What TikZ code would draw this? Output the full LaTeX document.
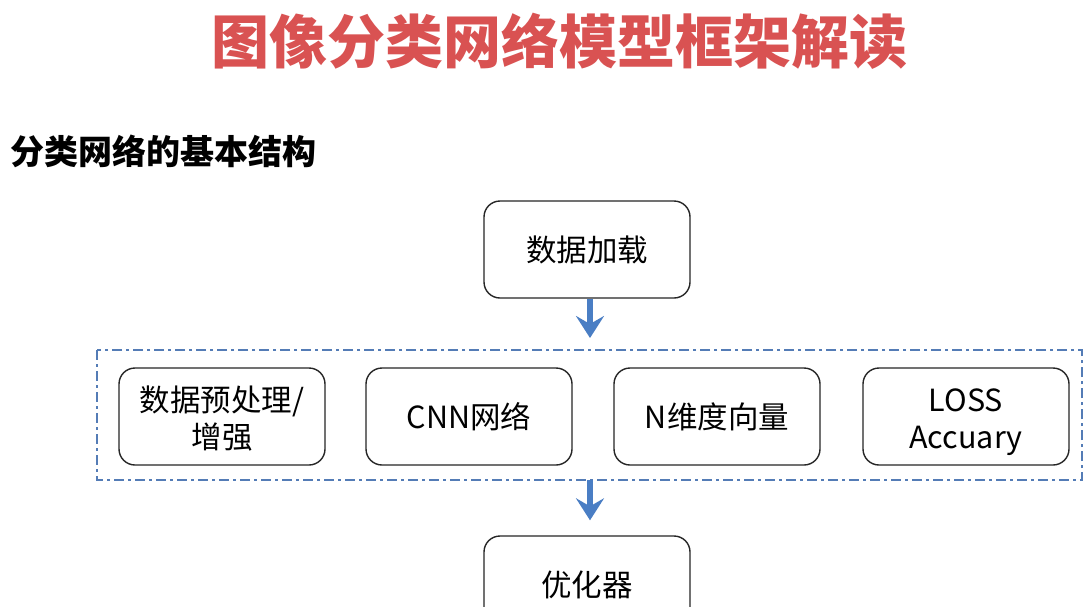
\documentclass[tikz,border=0pt]{standalone}
\usepackage{fontspec}
\newfontfamily\cjk{Noto Sans CJK SC}
\usetikzlibrary{arrows.meta}
\definecolor{titlered}{RGB}{217,82,82}
\definecolor{arrowblue}{RGB}{74,126,196}
\definecolor{dashblue}{RGB}{84,124,182}
\newcommand{\twolines}[2]{\raisebox{-12.5pt}[0pt][0pt]{\begin{tabular}{@{}c@{}}#1\\#2\end{tabular}}}
\tikzset{
  box/.style={draw=black!85, line width=1.4pt, rounded corners=16pt, minimum width=206pt, minimum height=97pt, align=center, inner sep=2pt, font=\cjk\fontsize{30.5}{37}\selectfont},
  flow/.style={draw=arrowblue, line width=6pt, -{Stealth[length=22pt,width=28pt,inset=8pt]}},
}
\begin{document}
\begin{tikzpicture}[x=1pt,y=-1pt]
\useasboundingbox[fill=white] (0,0) rectangle (1092,606);
\node[font=\cjk\bfseries\fontsize{58}{62}\selectfont, text=titlered] (title) at (559,41) {图像分类网络模型框架解读};
\node[font=\cjk\bfseries\fontsize{34}{38}\selectfont, anchor=west, inner sep=0pt] (sub) at (10,151) {分类网络的基本结构};
\node[box] (load) at (587,249.5) {数据加载};
\draw[dashblue, line width=2.5pt, dash pattern=on 10pt off 4pt on 3pt off 4pt] (97,350) rectangle (1082,480);
\coordinate (grptop) at (590,338);
\coordinate (grpbot) at (590,480);
\node[box] (pre) at (222,416.5) {\twolines{数据预处理/}{增强}};
\node[box] (cnn) at (469,416.5) {CNN网络};
\node[box] (vec) at (717,416.5) {N维度向量};
\node[box] (loss) at (966,416.5) {\twolines{LOSS}{Accuary}};
\node[box, minimum height=140pt] (opt) at (587,606) {};
\node[font=\cjk\fontsize{30.5}{37}\selectfont] (optlabel) at (587,585) {优化器};
\draw[flow] (load.south -| grptop) -- (grptop);
\draw[flow, shorten >=15pt] (grpbot) -- (grpbot |- opt.north);
\end{tikzpicture}
\end{document}
